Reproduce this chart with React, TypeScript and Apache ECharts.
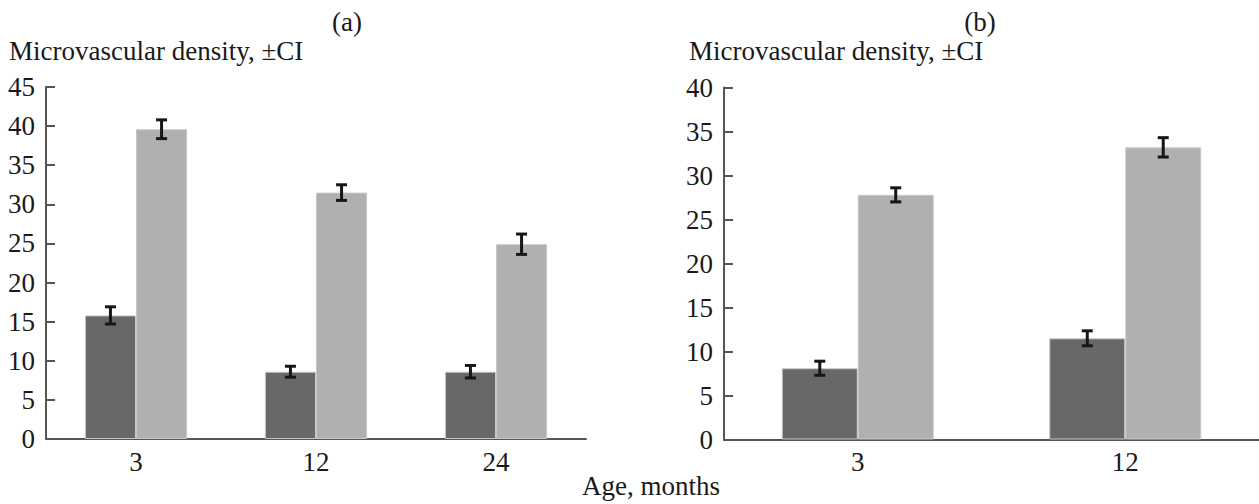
import React, { useEffect, useRef } from "react";
import * as echarts from "echarts";

const categoriesA = ["3", "12", "24"];
const darkA = [15.8, 8.6, 8.6];
const lightA = [39.6, 31.5, 24.9];
const darkCiA = [1.1, 0.7, 0.8];
const lightCiA = [1.2, 1.0, 1.3];

const categoriesB = ["3", "12"];
const darkB = [8.1, 11.5];
const lightB = [27.8, 33.2];
const darkCiB = [0.8, 0.85];
const lightCiB = [0.8, 1.1];

const yTitle = "Microvascular density, \u00b1CI";
const xTitle = "Age, months";

const FONT = "Liberation Serif";
const FS = 27;
const TEXT = "#1a1a1a";
const AXIS = "#555555";
const DARK = "#686868";
const LIGHT = "#b0b0b0";
const BAR_FRAC = 0.284;

function errData(vals: number[], ci: number[], side: number) {
  return vals.map((v, i) => [i, v - ci[i], v + ci[i], side]);
}

function renderErr(params: any, api: any) {
  const idx = api.value(0);
  const lo = api.value(1);
  const hi = api.value(2);
  const side = api.value(3);
  const band = api.size([1, 0])[0];
  const off = (side * band * BAR_FRAC) / 2;
  const top = api.coord([idx, hi]);
  const bot = api.coord([idx, lo]);
  const x = top[0] + off;
  const cap = 5.5;
  const style = { stroke: "#161616", lineWidth: 3 };
  return {
    type: "group",
    children: [
      { type: "line", shape: { x1: x, y1: top[1], x2: x, y2: bot[1] }, style },
      { type: "line", shape: { x1: x - cap, y1: top[1], x2: x + cap, y2: top[1] }, style },
      { type: "line", shape: { x1: x - cap, y1: bot[1], x2: x + cap, y2: bot[1] }, style },
    ],
  };
}

function xAxisCfg(cats: string[], gridIndex: number) {
  return {
    type: "category",
    gridIndex,
    data: cats,
    axisLine: { lineStyle: { color: AXIS, width: 2 } },
    axisTick: { inside: true, length: 9, lineStyle: { color: AXIS, width: 2 } },
    axisLabel: { color: TEXT, fontFamily: FONT, fontSize: FS, margin: 9 },
    splitLine: { show: false },
  };
}

function yAxisCfg(max: number, gridIndex: number) {
  return {
    type: "value",
    gridIndex,
    min: 0,
    max,
    interval: 5,
    axisLine: { show: true, lineStyle: { color: AXIS, width: 2 } },
    axisTick: { show: true, inside: true, length: 9, lineStyle: { color: AXIS, width: 2 } },
    axisLabel: { color: TEXT, fontFamily: FONT, fontSize: FS, margin: 11 },
    splitLine: { show: false },
  };
}

function textEl(text: string, x: number, y: number, align: string) {
  return {
    type: "text",
    x,
    y,
    style: {
      text,
      font: `${FS}px "${FONT}"`,
      fill: TEXT,
      textAlign: align,
      textVerticalAlign: "middle",
      align,
      verticalAlign: "middle",
    },
  };
}

export default function App() {
  const ref = useRef<HTMLDivElement>(null);
  useEffect(() => {
    if (!ref.current) return;
    const chart = echarts.init(ref.current, null, { renderer: "svg" });
    const barCommon = {
      type: "bar",
      barWidth: `${BAR_FRAC * 100}%`,
      barGap: "0%",
    };
    chart.setOption({
      animation: false,
      backgroundColor: "#ffffff",
      grid: [
        { left: 46, top: 87, width: 540, height: 352 },
        { left: 724, top: 87.5, width: 538, height: 352 },
      ],
      xAxis: [xAxisCfg(categoriesA, 0), xAxisCfg(categoriesB, 1)],
      yAxis: [yAxisCfg(45, 0), yAxisCfg(40, 1)],
      series: [
        { ...barCommon, xAxisIndex: 0, yAxisIndex: 0, data: darkA, itemStyle: { color: DARK, borderColor: "#c8c8c8", borderWidth: 1 } },
        { ...barCommon, xAxisIndex: 0, yAxisIndex: 0, data: lightA, itemStyle: { color: LIGHT, borderColor: "#c8c8c8", borderWidth: 1 } },
        { ...barCommon, xAxisIndex: 1, yAxisIndex: 1, data: darkB, itemStyle: { color: DARK, borderColor: "#c8c8c8", borderWidth: 1 } },
        { ...barCommon, xAxisIndex: 1, yAxisIndex: 1, data: lightB, itemStyle: { color: LIGHT, borderColor: "#c8c8c8", borderWidth: 1 } },
        { type: "custom", xAxisIndex: 0, yAxisIndex: 0, renderItem: renderErr, encode: { x: 0, y: [1, 2] }, data: errData(darkA, darkCiA, -1), z: 10 },
        { type: "custom", xAxisIndex: 0, yAxisIndex: 0, renderItem: renderErr, encode: { x: 0, y: [1, 2] }, data: errData(lightA, lightCiA, 1), z: 10 },
        { type: "custom", xAxisIndex: 1, yAxisIndex: 1, renderItem: renderErr, encode: { x: 0, y: [1, 2] }, data: errData(darkB, darkCiB, -1), z: 10 },
        { type: "custom", xAxisIndex: 1, yAxisIndex: 1, renderItem: renderErr, encode: { x: 0, y: [1, 2] }, data: errData(lightB, lightCiB, 1), z: 10 },
      ],
      graphic: [
        textEl("(a)", 347, 22, "center"),
        textEl("(b)", 980, 21.5, "center"),
        textEl(yTitle, 9, 51, "left"),
        textEl(yTitle, 689, 51, "left"),
        textEl(xTitle, 651, 486, "center"),
      ],
    });
    return () => chart.dispose();
  }, []);
  return (
    <div
      ref={ref}
      style={{ position: "absolute", left: 0, top: 0, width: 1259, height: 504, background: "#fff" }}
    />
  );
}
